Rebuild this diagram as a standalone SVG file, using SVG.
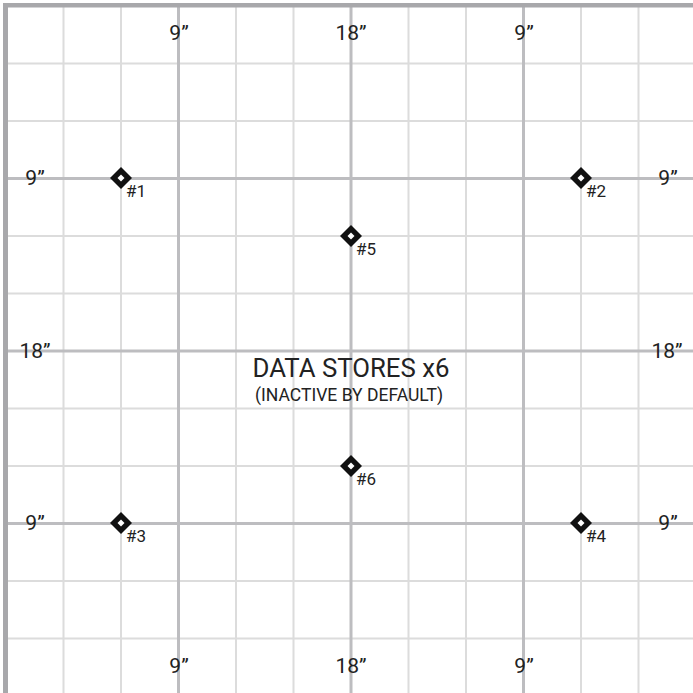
<svg xmlns="http://www.w3.org/2000/svg" width="693" height="693" viewBox="0 0 693 693">
<style>
.bg{fill:#ffffff}
.border{fill:#a8a8ab}
.lg{stroke:#dcdcdc;stroke-width:2;fill:none}
.dg{stroke:#bdbdc0;stroke-width:3;fill:none}
.dim{font-family:Roboto,"Liberation Sans",sans-serif;font-size:21px;fill:#222;text-anchor:middle}
.lbl{font-family:Roboto,"Liberation Sans",sans-serif;font-size:17px;fill:#222}
.t1{font-family:Roboto,"Liberation Sans",sans-serif;font-size:26px;fill:#222;text-anchor:middle}
.t2{font-family:Roboto,"Liberation Sans",sans-serif;font-size:18px;fill:#222;text-anchor:middle}
.dout{fill:#111}
.din{fill:#fff}
</style>
<defs>
<g id="diamond">
<polygon class="dout" points="0,-11 11,0 0,11 -11,0"/>
<polygon class="din" points="0,-3.5 3.5,0 0,3.5 -3.5,0"/>
</g>
</defs>
<rect class="bg" x="0" y="0" width="693" height="693"/>
<g id="grid">
<path class="lg" d="M63.5 7V693M121 7V693M236 7V693M293.5 7V693M408.5 7V693M466 7V693M581 7V693M638.5 7V693"/>
<path class="lg" d="M8 63.5H693M8 121H693M8 236H693M8 293.5H693M8 408.5H693M8 466H693M8 581H693M8 638.5H693"/>
<path class="dg" d="M178.5 7V693M351 7V693M523.5 7V693"/>
<path class="dg" d="M8 178.5H693M8 351H693M8 523.5H693"/>
</g>
<g id="frame">
<rect class="border" x="3" y="3" width="690" height="4.5"/>
<rect class="border" x="3" y="3" width="5" height="690"/>
</g>
<g id="dimensions">
<text class="dim" x="179" y="40">9”</text>
<text class="dim" x="351" y="40">18”</text>
<text class="dim" x="524" y="40">9”</text>
<text class="dim" x="179" y="673">9”</text>
<text class="dim" x="351" y="673">18”</text>
<text class="dim" x="524" y="673">9”</text>
<text class="dim" x="35" y="185">9”</text>
<text class="dim" x="35" y="358">18”</text>
<text class="dim" x="35" y="530">9”</text>
<text class="dim" x="668" y="185">9”</text>
<text class="dim" x="667" y="358">18”</text>
<text class="dim" x="668" y="530">9”</text>
</g>
<g id="title">
<text class="t1" x="351" y="377" textLength="197" lengthAdjust="spacingAndGlyphs">DATA STORES x6</text>
<text class="t2" x="349" y="401" textLength="188" lengthAdjust="spacingAndGlyphs">(INACTIVE BY DEFAULT)</text>
</g>
<g id="ds1"><use href="#diamond" x="121" y="178"/><text class="lbl" x="126" y="197">#1</text></g>
<g id="ds2"><use href="#diamond" x="581" y="178"/><text class="lbl" x="586" y="197">#2</text></g>
<g id="ds5"><use href="#diamond" x="351" y="236"/><text class="lbl" x="356" y="255">#5</text></g>
<g id="ds6"><use href="#diamond" x="351" y="466"/><text class="lbl" x="356" y="485">#6</text></g>
<g id="ds3"><use href="#diamond" x="121" y="523"/><text class="lbl" x="126" y="542">#3</text></g>
<g id="ds4"><use href="#diamond" x="581" y="523"/><text class="lbl" x="586" y="542">#4</text></g>
<g id="connectors"></g>
</svg>
